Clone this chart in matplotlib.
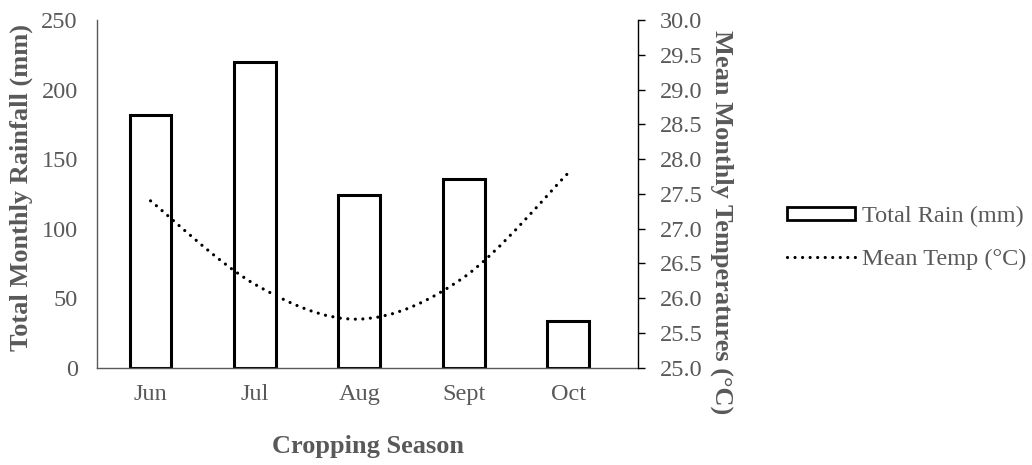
import matplotlib
matplotlib.use("Agg")
import matplotlib.pyplot as plt
from matplotlib.path import Path
from matplotlib.patches import PathPatch, Patch
from matplotlib.lines import Line2D
import numpy as np

months = ["Jun", "Jul", "Aug", "Sept", "Oct"]
rain_mm = [182, 220, 124, 136, 34]
mean_temp = [27.4, 26.2, 25.7, 26.3, 27.8]
left_ticks = [0, 50, 100, 150, 200, 250]
right_ticks = [25.0, 25.5, 26.0, 26.5, 27.0, 27.5, 28.0, 28.5, 29.0, 29.5, 30.0]

plt.rcParams['font.family'] = ['Liberation Serif', 'DejaVu Serif']
GRAY = '#595959'
FS = 17.5
LFS = 19

fig = plt.figure(figsize=(10.32, 4.65), dpi=100)
ax = fig.add_axes([0.0943, 0.209, 0.524, 0.748])
x = np.arange(len(months))
ax.bar(x, rain_mm, width=0.4, facecolor='white', edgecolor='black', linewidth=2.2, zorder=2)
ax.set_xlim(-0.51, 4.67)
ax.set_ylim(0, 250)
ax.set_yticks(left_ticks)
ax.set_yticklabels([str(t) for t in left_ticks], fontsize=FS, color=GRAY)
ax.set_xticks(x)
ax.set_xticklabels(months, fontsize=FS, color=GRAY)
ax.tick_params(axis='y', length=0, pad=14)
ax.tick_params(axis='x', length=0, pad=12)
for s in ['top', 'right']:
    ax.spines[s].set_visible(False)
ax.spines['left'].set_color(GRAY)
ax.spines['bottom'].set_color(GRAY)
ax.spines['left'].set_linewidth(1.0)
ax.spines['bottom'].set_linewidth(1.0)
ax.set_ylabel("Total Monthly Rainfall (mm)", fontsize=LFS, fontweight='bold', color=GRAY, va='center')
ax.yaxis.set_label_coords(-0.141, 0.517)
ax.set_xlabel("Cropping Season", fontsize=LFS, fontweight='bold', color=GRAY, va='center')
ax.xaxis.set_label_coords(0.5, -0.225)

ax2 = ax.twinx()
ax2.set_ylim(25, 30)
ax2.set_yticks(right_ticks)
ax2.set_yticklabels([f"{t:.1f}" for t in right_ticks], fontsize=FS, color=GRAY)
ax2.tick_params(axis='y', length=5, width=1, color='black', pad=11, direction='out')
for s in ['top', 'left', 'bottom']:
    ax2.spines[s].set_visible(False)
ax2.spines['right'].set_color('black')
ax2.spines['right'].set_linewidth(1.0)
ax2.set_ylabel("Mean Monthly Temperatures (°C)", fontsize=LFS, fontweight='bold', color=GRAY,
               rotation=-90, va='center')
ax2.yaxis.set_label_coords(1.155, 0.418)

# smoothed line (Catmull-Rom as cubic Bezier in data space)
px = list(x.astype(float))
py = list(mean_temp)
n = len(px)
verts = [(px[0], py[0])]
codes = [Path.MOVETO]
t = 1.0 / 6.0
for i in range(n - 1):
    p0 = (px[max(i - 1, 0)], py[max(i - 1, 0)])
    p1 = (px[i], py[i])
    p2 = (px[i + 1], py[i + 1])
    p3 = (px[min(i + 2, n - 1)], py[min(i + 2, n - 1)])
    c1 = (p1[0] + (p2[0] - p0[0]) * t, p1[1] + (p2[1] - p0[1]) * t)
    c2 = (p2[0] - (p3[0] - p1[0]) * t, p2[1] - (p3[1] - p1[1]) * t)
    verts += [c1, c2, p2]
    codes += [Path.CURVE4] * 3
patch = PathPatch(Path(verts, codes), facecolor='none', edgecolor='black', linewidth=2.3,
                  linestyle=(0, (0.01, 2.35)), zorder=3)
patch.set_capstyle('round')
ax2.add_patch(patch)

handles = [Patch(facecolor='white', edgecolor='black', linewidth=2.0),
           Line2D([], [], color='black', linewidth=2.3, linestyle=(0, (0.01, 2.35)),
                  dash_capstyle='round')]
leg = fig.legend(handles, ["Total Rain (mm)", "Mean Temp (°C)"], loc='center left',
                 bbox_to_anchor=(0.7505, 0.488), frameon=False, fontsize=FS,
                 handlelength=2.8, handleheight=0.5, handletextpad=0.3, labelspacing=0.9,
                 borderpad=0)
for txt in leg.get_texts():
    txt.set_color(GRAY)

fig.savefig("out.png", dpi=100)
